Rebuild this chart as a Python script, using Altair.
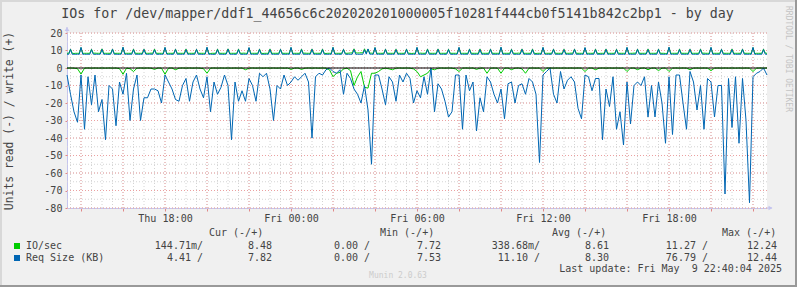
import altair as alt
import pandas as pd

# ---------------- data ----------------
# read series: 10-minute samples, write series: 5-minute samples (Thu 13:20 -> Fri 22:40)
START_H = 13 + 20 / 60.0
END_H = 46 + 40 / 60.0

read_req = [
    -4, -15, -25, -31, -4, -35, -5, -21, -4, -25,
    -18, -41, -10, -12, -33, -8, -15, -3, -30, -12,
    -4, -30, -17, -17, -12, -12, -13, -20, -4, -8,
    -12, -18, -19, -10, -6, -19, -8, -4, -12, -17,
    -5, -25, -8, -15, -11, -4, -10, -41, -8, -19,
    -13, -19, -6, -10, -19, -3, -5, -3, -12, -30,
    -10, -12, -4, -10, -8, -5, -7, -5, -3, -8,
    -40, -5, -3, -4, -1, 0, -2, -3, -1, -15,
    -3, -6, -12, -15, -20, -10, -24, -55, -4, -4,
    -12, -21, -5, -8, -19, -4, -8, -3, -6, -20,
    -13, -17, -5, -15, 0, -25, -9, -12, -19, -28,
    -25, -4, -4, -35, -4, -13, -8, -36, -17, -25,
    -5, -8, -15, -20, -12, -29, -9, -8, -20, -10,
    -9, -15, -6, -8, -15, -54, -4, -2, 0, -15,
    -20, -2, -12, -7, -5, -8, -23, -29, -4, -5,
    -13, -6, -6, -41, -12, -22, -5, -35, -25, -44,
    -8, -32, -10, -8, -10, -5, -28, -10, -28, -8,
    -20, -43, -5, -38, -4, -4, -20, -35, -2, -8,
    -24, -10, -35, -6, -8, -28, -10, -10, -72, -6,
    -34, -5, -43, -6, -30, -77, -5, -3, -2, 0,
    -4,
]

read_io = [
    -0.1, 0.0, -0.1, -0.4, -3.5, -0.1, 0.0, -0.1, 0.0, -0.1, 0.0, -0.1,
    0.0, -0.1, 0.0, -0.4, -3.6, -0.1, -0.4, -2.0, -0.1, 0.0, -0.1, 0.0,
    -0.1, -0.8, 0.0, -0.1, -3.6, -0.1, 0.0, -1.0, -0.1, 0.0, -0.1, 0.0,
    -0.1, 0.0, -0.1, -0.4, -3.0, -0.1, 0.0, -0.1, 0.0, -0.1, 0.0, -0.1,
    0.0, -0.1, 0.0, -1.0, -0.1, 0.0, -0.1, 0.0, -0.1, 0.0, -0.1, 0.0,
    -0.1, 0.0, -0.1, 0.0, -0.8, -0.1, 0.0, -0.8, -0.1, 0.0, -0.1, 0.0,
    -0.1, 0.0, -0.1, -1.0, -5.0, -3.0, -2.5, -0.5, -0.1, -1.5, -10.0, -5.0,
    -2.0, -11.0, -11.5, -3.0, -3.0, -2.0, -0.5, -0.1, -0.5, -1.0, -0.1, 0.0,
    -0.1, 0.0, -0.1, -0.5, -2.0, -5.0, -4.0, -3.0, -0.5, -1.0, -0.1, 0.0,
    -0.1, 0.0, -0.1, -0.5, -2.0, -0.1, 0.0, -0.1, 0.0, -0.8, -0.1, 0.0,
    -3.0, -0.1, 0.0, -0.1, -3.0, -0.1, 0.0, -1.0, -0.1, 0.0, -0.5, -3.0,
    -0.1, 0.0, -0.1, 0.0, -2.0, -0.1, 0.0, -0.1, 0.0, -0.1, 0.0, -0.1,
    0.0, -0.1, 0.0, -0.1, -2.0, -0.1, 0.0, -1.0, -0.1, 0.0, -0.1, 0.0,
    -0.1, 0.0, -0.1, 0.0, -2.0, -0.1, 0.0, -1.0, -0.1, 0.0, -1.0, -0.1,
    0.0, -1.5, -0.1, 0.0, -2.0, -0.1, 0.0, -0.1, 0.0, -0.1, -1.0, -0.1,
    0.0, -0.1, 0.0, -0.1, -1.5, -0.1, 0.0, -0.1, 0.0, -0.1, 0.0, -0.1,
    0.0, -0.1, 0.0, -0.1, -2.0, -0.1, 0.0, -0.1, 0.0,
]

write_req = [
    7.9, 7.8, 10.6, 7.8, 7.9, 7.8, 7.9, 7.8, 11.8, 7.8, 7.9, 7.8, 7.9, 7.8, 10.5, 7.9, 7.8, 7.9, 7.8, 7.9, 10.6, 7.8, 7.9, 7.8,
    7.8, 7.9, 10.7, 7.8, 7.9, 7.8, 7.8, 7.9, 11.9, 7.8, 7.9, 7.8, 7.9, 7.8, 10.5, 7.8, 7.9, 7.8, 7.9, 7.8, 10.6, 7.9, 7.8, 7.9,
    7.9, 7.8, 10.4, 7.9, 7.8, 7.9, 7.8, 7.9, 11.8, 7.9, 7.8, 7.9, 7.8, 7.9, 10.6, 7.8, 7.9, 7.8, 7.9, 7.8, 10.5, 7.8, 7.9, 7.8,
    7.9, 7.8, 10.6, 7.8, 7.9, 7.8, 7.8, 7.9, 11.9, 7.8, 7.9, 7.8, 7.8, 7.9, 10.5, 7.8, 7.9, 7.8, 7.8, 7.9, 10.7, 7.9, 7.8, 7.9,
    7.8, 7.9, 10.5, 7.9, 7.8, 7.9, 7.8, 7.9, 11.7, 7.8, 7.9, 7.8, 7.9, 7.8, 10.6, 7.8, 7.9, 7.8, 7.9, 7.8, 10.5, 7.8, 7.9, 7.8,
    7.9, 7.8, 10.6, 7.8, 7.9, 7.8, 7.9, 7.8, 11.8, 7.8, 7.9, 7.8, 7.9, 7.8, 10.5, 7.8, 7.9, 7.8, 7.9, 7.8, 10.6, 7.8, 7.9, 7.8,
    7.9, 7.8, 10.5, 7.8, 7.9, 7.8, 7.9, 7.8, 11.8, 7.9, 7.8, 7.9, 7.8, 7.9, 10.6, 7.9, 7.8, 7.9, 7.8, 7.9, 10.5, 7.8, 7.9, 7.8,
    7.9, 7.8, 10.4, 7.9, 10.9, 7.9, 7.9, 7.8, 11.7, 7.8, 7.9, 7.8, 7.9, 7.8, 10.6, 7.8, 7.9, 7.8, 7.9, 7.8, 10.5, 7.8, 7.9, 7.8,
    7.9, 7.8, 10.6, 7.8, 7.9, 7.8, 7.9, 7.8, 11.8, 7.8, 7.9, 7.8, 7.9, 7.8, 10.5, 7.8, 7.9, 7.8, 7.9, 7.8, 10.6, 7.9, 7.8, 7.9,
    7.8, 7.9, 10.5, 7.9, 7.8, 7.9, 7.8, 7.9, 11.8, 7.8, 7.9, 7.8, 7.9, 7.8, 10.6, 7.8, 7.9, 7.8, 7.9, 7.8, 10.5, 7.8, 7.9, 7.8,
    7.9, 7.8, 10.6, 7.8, 7.9, 7.8, 7.9, 7.8, 11.9, 7.8, 7.9, 7.8, 7.9, 7.8, 10.5, 7.9, 7.8, 7.9, 7.8, 7.9, 10.6, 7.8, 7.9, 7.8,
    7.9, 7.8, 10.5, 7.8, 7.9, 7.8, 7.9, 7.8, 11.8, 7.9, 7.8, 7.9, 7.8, 7.9, 10.6, 7.8, 7.9, 7.8, 7.9, 7.8, 10.5, 7.8, 7.9, 7.8,
    7.9, 7.8, 10.6, 7.8, 7.9, 7.8, 7.9, 7.8, 11.7, 7.8, 7.9, 7.8, 7.9, 7.8, 10.5, 7.8, 7.9, 7.8, 7.9, 7.8, 10.6, 7.8, 7.9, 7.8,
    7.9, 7.8, 10.5, 7.8, 7.9, 7.8, 7.9, 7.8, 11.8, 7.8, 7.9, 7.8, 7.9, 7.8, 10.6, 7.9, 7.8, 7.9, 7.8, 7.9, 10.5, 7.8, 7.9, 7.8,
    7.9, 7.8, 10.6, 7.8, 7.9, 7.8, 7.9, 7.8, 11.9, 7.8, 7.9, 7.8, 7.9, 7.8, 10.5, 7.8, 7.9, 7.8, 7.9, 7.8, 10.6, 7.9, 7.8, 7.9,
    7.8, 7.9, 10.5, 7.9, 7.8, 7.9, 7.8, 7.9, 11.8, 7.8, 7.9, 7.8, 7.9, 7.8, 10.6, 7.8, 7.9, 7.8, 7.9, 7.8, 10.5, 7.8, 7.9, 7.8,
    7.9, 7.8, 10.6, 7.8, 7.9, 7.8, 7.9, 7.8, 11.8, 7.8, 7.9, 7.8, 7.9, 7.8, 10.5, 7.9, 7.8,
]

write_io = [
    8.4, 8.4, 10.8, 8.4, 8.3, 8.4, 8.4, 8.4, 11.6, 8.4, 8.4, 8.4, 8.4, 8.4, 10.7, 8.4, 8.5, 8.4, 8.4, 8.4, 10.9, 8.4, 8.4, 8.4,
    8.4, 8.4, 10.8, 8.3, 8.4, 8.4, 8.4, 8.4, 11.7, 8.4, 8.4, 8.4, 8.4, 8.4, 10.8, 8.4, 8.4, 8.4, 8.4, 8.4, 10.7, 8.4, 8.4, 8.4,
    8.5, 8.4, 10.8, 8.4, 8.4, 8.4, 8.4, 8.4, 11.6, 8.3, 8.4, 8.4, 8.4, 8.4, 10.8, 8.4, 8.4, 8.4, 8.4, 8.4, 10.8, 8.4, 8.4, 8.4,
    8.4, 8.4, 10.7, 8.4, 8.4, 8.4, 8.4, 8.4, 11.6, 8.4, 8.3, 8.4, 8.4, 8.4, 10.8, 8.4, 8.4, 8.4, 8.4, 8.4, 10.9, 8.4, 8.4, 8.4,
    8.4, 8.4, 10.8, 8.4, 8.4, 8.5, 8.4, 8.4, 11.5, 8.4, 8.4, 8.4, 8.4, 8.4, 10.8, 8.4, 8.3, 8.4, 8.4, 8.4, 10.8, 8.4, 8.4, 8.4,
    8.4, 8.4, 10.7, 8.4, 8.4, 8.4, 8.4, 8.4, 11.6, 8.4, 8.4, 8.4, 8.4, 8.4, 10.8, 8.4, 8.5, 8.4, 8.4, 8.4, 10.8, 8.4, 8.4, 8.4,
    8.4, 8.4, 10.8, 8.4, 8.3, 8.4, 8.4, 8.4, 11.7, 8.4, 8.4, 8.4, 8.4, 8.4, 10.7, 8.4, 8.4, 8.5, 8.6, 8.6, 10.9, 8.6, 8.6, 8.6,
    8.7, 8.6, 10.9, 8.6, 10.8, 8.5, 8.5, 8.4, 11.6, 8.4, 8.4, 8.4, 8.4, 8.4, 10.8, 8.4, 8.4, 8.4, 8.4, 8.4, 10.7, 8.4, 8.4, 8.4,
    8.4, 8.4, 10.8, 8.4, 8.4, 8.3, 8.4, 8.4, 11.6, 8.4, 8.5, 8.4, 8.4, 8.4, 10.8, 8.4, 8.4, 8.4, 8.4, 8.4, 10.8, 8.4, 8.4, 8.4,
    8.4, 8.4, 10.7, 8.4, 8.4, 8.4, 8.4, 8.4, 11.6, 8.4, 8.4, 8.4, 8.4, 8.3, 10.8, 8.4, 8.4, 8.4, 8.4, 8.4, 10.8, 8.4, 8.4, 8.4,
    8.4, 8.4, 10.8, 8.4, 8.4, 8.4, 8.4, 8.4, 11.7, 8.4, 8.4, 8.4, 8.4, 8.4, 10.7, 8.4, 8.4, 8.4, 8.5, 8.4, 10.8, 8.4, 8.4, 8.4,
    8.4, 8.4, 10.8, 8.4, 8.3, 8.4, 8.4, 8.4, 11.6, 8.4, 8.4, 8.4, 8.4, 8.4, 10.8, 8.4, 8.4, 8.4, 8.4, 8.4, 10.7, 8.4, 8.4, 8.4,
    8.5, 8.4, 10.8, 8.4, 8.4, 8.4, 8.4, 8.4, 11.5, 8.4, 8.4, 8.4, 8.4, 8.4, 10.8, 8.4, 8.3, 8.4, 8.4, 8.4, 10.8, 8.4, 8.4, 8.4,
    8.4, 8.4, 10.7, 8.4, 8.4, 8.4, 8.4, 8.4, 11.6, 8.4, 8.4, 8.4, 8.5, 8.4, 10.8, 8.4, 8.4, 8.4, 8.4, 8.4, 10.8, 8.4, 8.4, 8.4,
    8.4, 8.4, 10.8, 8.4, 8.4, 8.4, 8.3, 8.4, 11.7, 8.4, 8.4, 8.4, 8.4, 8.4, 10.8, 8.4, 8.4, 8.4, 8.4, 8.4, 10.7, 8.4, 8.4, 8.4,
    8.4, 8.4, 10.8, 8.4, 8.5, 8.4, 8.4, 8.4, 11.6, 8.4, 8.4, 8.4, 8.4, 8.4, 10.7, 8.4, 8.4, 8.4, 8.4, 8.4, 10.8, 8.4, 8.4, 8.4,
    8.4, 8.4, 10.8, 8.4, 8.4, 8.4, 8.4, 8.4, 11.6, 8.3, 8.4, 8.4, 8.4, 8.4, 10.8, 8.5, 8.4,
]

# grid positions (hours / units)
x_minor = [13.5 + 0.5 * k for k in range(67)]
x_major = [14 + 2 * k for k in range(17)]
y_minor = list(range(-80, 21, 5))
y_major = list(range(-80, 21, 10))

# legend texts
legend_names = ["IO/sec", "Req Size (KB)"]
legend_headers = ["Cur (-/+)", "Min (-/+)", "Avg (-/+)", "Max (-/+)"]
cur_read = ["144.71m/", "4.41 /"]
cur_write = ["8.48", "7.82"]
min_read = ["0.00 /", "0.00 /"]
min_write = ["7.72", "7.53"]
avg_read = ["338.68m/", "11.10 /"]
avg_write = ["8.61", "8.30"]
max_read = ["11.27 /", "76.79 /"]
max_write = ["12.24", "12.44"]

TITLE = "IOs for /dev/mapper/ddf1_44656c6c202020201000005f10281f444cb0f5141b842c2bp1 - by day"
Y_TITLE = "Units read (-) / write (+)"
LAST_UPDATE = "Last update: Fri May\u00a0\u00a09 22:40:04 2025"

# ---------------- styling ----------------
MONO = "DejaVu Sans Mono"
GREEN = "#00CC00"
BLUE = "#0066B3"
TXT = "#444444"
AXIS_C = "#C4C4EE"
GRID_MINOR = "#D4D4D4"
GRID_MAJOR = "#EBA0A0"
PL, PT = 67, 33
W, H = 700, 175

def hours_for(n):
    step = (END_H - START_H) / (n - 1)
    return [START_H + i * step for i in range(n)]

def frame(values, name):
    return pd.DataFrame({"hour": hours_for(len(values)), "value": values, "series": name})

xscale = alt.Scale(domain=[START_H, END_H], nice=False, zero=False)
yscale = alt.Scale(domain=[-80, 20], nice=False, zero=False)

xaxis = alt.Axis(
    values=x_major,
    title=None,
    grid=False,
    tickColor="#E08888",
    tickSize=3,
    domainColor=AXIS_C,
    labelExpr="datum.value % 6 === 0 ? ((datum.value < 24 ? 'Thu ' : 'Fri ') + ((datum.value % 24) < 10 ? '0' : '') + (datum.value % 24) + ':00') : ''",
    labelFont=MONO,
    labelFontSize=10.1,
    labelColor=TXT,
    labelPadding=2,
    labelOverlap=False,
    labelFlush=False,
)
yaxis = alt.Axis(
    values=y_major,
    title=None,
    grid=False,
    tickColor="#E08888",
    tickSize=2,
    domainColor=AXIS_C,
    labelExpr="'' + datum.value",
    labelFont=MONO,
    labelFontSize=10.1,
    labelColor=TXT,
    labelPadding=3,
    labelOverlap=False,
    labelFlush=False,
)

X = alt.X("hour:Q", scale=xscale, axis=xaxis)
Y = alt.Y("value:Q", scale=yscale, axis=yaxis)

def line(values, name, color):
    return alt.Chart(frame(values, name)).mark_line(
        color=color, strokeWidth=1, interpolate="linear"
    ).encode(x=X, y=Y)

def vgrid(vals, color):
    return alt.Chart(pd.DataFrame({"hour": vals})).mark_rule(
        color=color, strokeWidth=1, strokeDash=[1, 2]).encode(x=X)

def hgrid(vals, color):
    return alt.Chart(pd.DataFrame({"value": vals})).mark_rule(
        color=color, strokeWidth=1, strokeDash=[1, 2]).encode(y=Y)

zero = alt.Chart(pd.DataFrame({"value": [0]})).mark_rule(color="black", strokeWidth=1).encode(y=Y)

one = pd.DataFrame({"k": [0]})

def txt(s, x, y, align="left", size=10, color=TXT, angle=0):
    return alt.Chart(one).mark_text(
        text=s, align=align, baseline="middle", font=MONO, fontSize=size,
        color=color, angle=angle,
    ).encode(x=alt.value(x - PL), y=alt.value(y - PT))

def rule(x1, y1, x2, y2, color, width=1):
    return alt.Chart(one).mark_rule(color=color, strokeWidth=width).encode(
        x=alt.value(x1 - PL), x2=alt.value(x2 - PL),
        y=alt.value(y1 - PT), y2=alt.value(y2 - PT))

def tri(shape, x, y, color):
    return alt.Chart(one).mark_point(
        shape=shape, filled=True, color=color, size=22, opacity=1, strokeWidth=0
    ).encode(x=alt.value(x - PL), y=alt.value(y - PT))

def square(x, y, color):
    return alt.Chart(one).mark_square(size=36, color=color, opacity=1).encode(
        x=alt.value(x - PL), y=alt.value(y - PT))

layers = [
    vgrid(x_minor, GRID_MINOR),
    hgrid(y_minor, GRID_MINOR),
    vgrid(x_major, GRID_MAJOR),
    hgrid(y_major, GRID_MAJOR),
    line(read_io, "io_read", GREEN),
    line(write_io, "io_write", GREEN),
    line(read_req, "req_read", BLUE),
    line(write_req, "req_write", BLUE),
    zero,
    rule(67, 27, 67, 33, AXIS_C),
    tri("triangle-up", 67, 29, AXIS_C),
    rule(767, 208, 772, 208, AXIS_C),
    tri("triangle-right", 770.5, 208, AXIS_C),
    txt(TITLE, 397.5, 13.5, align="center", size=13.3),
    txt(Y_TITLE, 10, 121, align="center", size=11.4, angle=270),
    txt("RRDTOOL / TOBI OETIKER", 788, 59, align="center", size=8, color="#C4C4C4", angle=90),
    txt("Munin 2.0.63", 398, 276, align="center", size=8, color="#CCCCCC"),
    txt(LAST_UPDATE, 782, 269, align="right"),
]

for h, xl in zip(legend_headers, [209, 380, 552, 722]):
    layers.append(txt(h, xl, 233))

row_y = [246, 258]
colors = [GREEN, BLUE]
cols = [(cur_read, 203), (cur_write, 272), (min_read, 370), (min_write, 441),
        (avg_read, 540), (avg_write, 609), (max_read, 708), (max_write, 777)]
for r in range(2):
    layers.append(square(17, row_y[r], colors[r]))
    layers.append(txt(legend_names[r], 26, row_y[r]))
    for vals, xr in cols:
        layers.append(txt(vals[r], xr, row_y[r], align="right"))

layers += [
    rule(0, 1, 797, 1, "#D8D8D8", 2),
    rule(1, 0, 1, 287, "#D8D8D8", 2),
    rule(0, 286, 797, 286, "#999999", 2),
    rule(796, 0, 796, 287, "#999999", 2),
]

chart = alt.layer(*layers).properties(
    width=W, height=H,
    autosize=alt.AutoSizeParams(type="none"),
    padding={"left": PL, "top": PT, "right": 797 - PL - W, "bottom": 287 - PT - H},
).configure(background="#F0F0F0").configure_view(fill="white", strokeWidth=0)

chart.save("out.html", embed_options={"renderer": "svg", "actions": False})
